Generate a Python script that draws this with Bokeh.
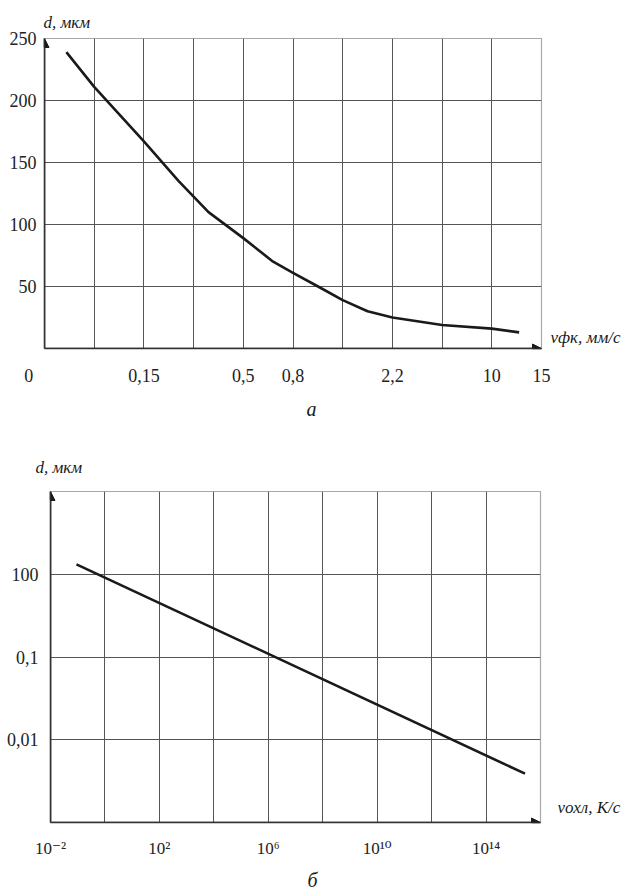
from bokeh.plotting import figure
from bokeh.models import FixedTicker, LinearAxis, Title, Arrow, NormalHead
from bokeh.layouts import column
from bokeh.embed import file_html
from bokeh.resources import INLINE

# ---------------- Chart а: d vs v_фк ----------------
speed_pos = [0.44, 1.0, 2.0, 2.7, 3.3, 4.0, 4.6, 5.0, 5.55, 6.0, 6.5, 7.0, 8.0, 9.0, 9.55]
grain_d = [239, 211, 167, 135, 110, 89, 70, 61, 49, 39, 30, 25, 19, 16, 13]
x_grid_a = [1, 2, 3, 4, 5, 6, 7, 8, 9]
x_tick_pos_a = [0, 2, 4, 5, 7, 9, 10]
x_tick_labels_a = ["0" + "\u00a0" * 7, "0,15", "0,5", "0,8", "2,2", "10", "15"]
y_ticks_a = [50, 100, 150, 200, 250]
y_grid_a = [50, 100, 150, 200]
x_title_a = "vфк, мм/с"
y_title_a = "d, мкм"

# ---------------- Chart б: d vs v_охл ----------------
cool_rate = [0.09, 2.7e15]
grain_row = [3.12, 0.59]
x_grid_b = [10**0, 10**2, 10**4, 10**6, 10**8, 10**10, 10**12, 10**14]
x_ticks_b = [0.01, 10**2, 10**6, 10**10, 10**14]
x_tick_labels_b = ["10⁻²", "10²", "10⁶", "10¹⁰", "10¹⁴"]
y_tick_pos_b = [1, 2, 3]
y_tick_labels_b = ["0,01", "0,1", "100"]
y_grid_b = [1, 2, 3]
x_title_b = "vохл, К/с"
y_title_b = "d, мкм"

SERIF = "Liberation Serif"
INK = "#1a1a1a"


def style_axis(ax, size="18px"):
    ax.major_tick_line_color = None
    ax.minor_tick_line_color = None
    ax.major_tick_out = 0
    ax.major_tick_in = 0
    ax.minor_tick_out = 0
    ax.minor_tick_in = 0
    ax.axis_label = None
    ax.axis_label_standoff = 0
    ax.axis_line_color = "#333333"
    ax.axis_line_width = 1.5
    ax.major_label_text_font = SERIF
    ax.major_label_text_font_size = size
    ax.major_label_text_color = "#222222"


def style(p, xgrid, ygrid):
    p.outline_line_color = "#a8a8a8"
    p.outline_line_width = 1.2
    p.background_fill_color = "white"
    p.border_fill_color = "white"
    if "frame_align" in p.properties():
        p.frame_align = False
    style_axis(p.xaxis[0])
    style_axis(p.yaxis[0])
    p.xgrid.ticker = FixedTicker(ticks=xgrid)
    p.ygrid.ticker = FixedTicker(ticks=ygrid)
    p.grid.grid_line_color = "#555555"
    p.grid.grid_line_width = 1


def set_title(t, text, offset, standoff, size="17px"):
    t.text = text
    t.align = "left"
    t.offset = offset
    t.standoff = standoff
    t.text_font = SERIF
    t.text_font_size = size
    t.text_font_style = "italic"
    t.text_color = INK


def right_label(p, y, text, standoff):
    ax = LinearAxis(ticker=FixedTicker(ticks=[y]), major_label_overrides={y: text})
    style_axis(ax, "17px")
    ax.axis_line_color = None
    ax.major_label_text_font_style = "italic"
    ax.major_label_text_color = INK
    ax.major_label_standoff = standoff
    p.add_layout(ax, "right")


# ---------- top figure ----------
p1 = figure(width=626, height=440, x_range=(0, 10), y_range=(0, 250),
            output_backend="svg", toolbar_location=None,
            min_border_left=44, min_border_right=85, min_border_top=38, min_border_bottom=92)
style(p1, x_grid_a, y_grid_a)
p1.xaxis[0].ticker = FixedTicker(ticks=x_tick_pos_a)
p1.xaxis[0].major_label_overrides = {t: s for t, s in zip(x_tick_pos_a, x_tick_labels_a)}
p1.xaxis[0].major_label_standoff = 17
p1.yaxis[0].ticker = FixedTicker(ticks=y_ticks_a)
p1.yaxis[0].major_label_standoff = 8

p1.line(speed_pos, grain_d, line_color=INK, line_width=2.6, line_join="round")

p1.add_layout(Arrow(end=NormalHead(size=9, fill_color=INK, line_color=INK),
                    x_start=0, y_start=0, x_end=0, y_end=250, line_color="#333333", line_width=1.5))
p1.add_layout(Arrow(end=NormalHead(size=9, fill_color=INK, line_color=INK),
                    x_start=0, y_start=0, x_end=10, y_end=0, line_color="#333333", line_width=1.5))

set_title(p1.title, y_title_a, -1, 13)
right_label(p1, 8.9, x_title_a, 9)
cap_a = Title()
set_title(cap_a, "а", 262, 14, size="20px")
p1.add_layout(cap_a, "below")

# ---------- bottom figure ----------
p2 = figure(width=626, height=456, x_range=(1e-2, 1e16), y_range=(0, 4), x_axis_type="log",
            output_backend="svg", toolbar_location=None,
            min_border_left=50, min_border_right=86, min_border_top=50, min_border_bottom=74)
style(p2, x_grid_b, y_grid_b)
p2.xaxis[0].ticker = FixedTicker(ticks=x_ticks_b)
p2.xaxis[0].major_label_overrides = {t: s for t, s in zip(x_ticks_b, x_tick_labels_b)}
p2.xaxis[0].major_label_standoff = 16
p2.xaxis[0].major_label_text_font = "Liberation Serif, DejaVu Serif"
p2.xaxis[0].major_label_text_font_size = "17px"
p2.yaxis[0].ticker = FixedTicker(ticks=y_tick_pos_b)
p2.yaxis[0].major_label_overrides = {t: s for t, s in zip(y_tick_pos_b, y_tick_labels_b)}
p2.yaxis[0].major_label_standoff = 12

p2.line(cool_rate, grain_row, line_color=INK, line_width=2.6)

p2.add_layout(Arrow(end=NormalHead(size=9, fill_color=INK, line_color=INK),
                    x_start=1e-2, y_start=0, x_end=1e-2, y_end=4, line_color="#333333", line_width=1.5))
p2.add_layout(Arrow(end=NormalHead(size=9, fill_color=INK, line_color=INK),
                    x_start=1e-2, y_start=0, x_end=1e16, y_end=0, line_color="#333333", line_width=1.5))

set_title(p2.title, y_title_b, -15, 30)
right_label(p2, 0.18, x_title_b, 17)
cap_b = Title()
set_title(cap_b, "б", 257, 12, size="20px")
p2.add_layout(cap_b, "below")

layout = column(p1, p2, spacing=0)
open("out.html", "w").write(file_html(layout, INLINE))
